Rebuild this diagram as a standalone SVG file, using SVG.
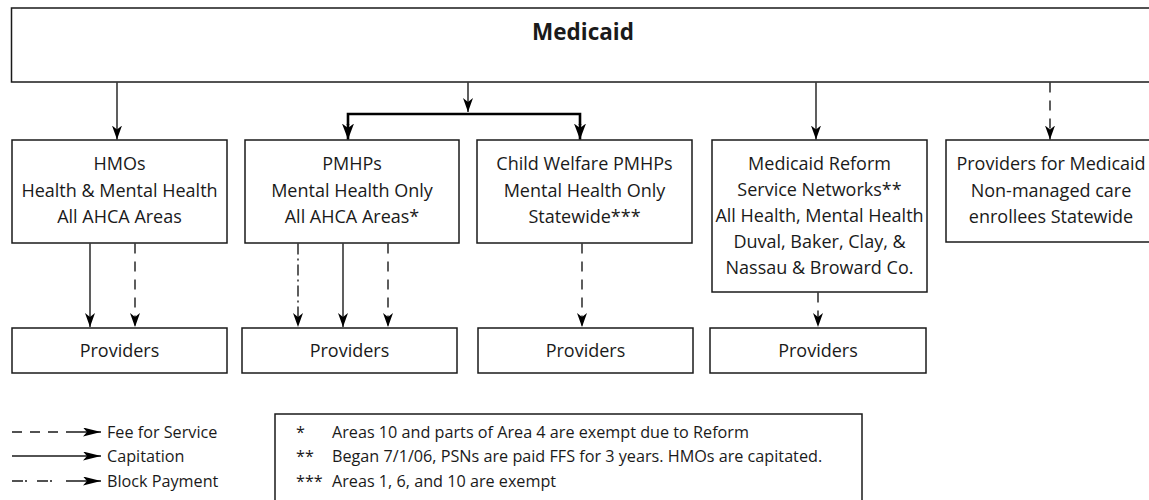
<svg xmlns="http://www.w3.org/2000/svg" width="1149" height="500" viewBox="0 0 1149 500">
<defs>
<style>
.box{fill:#fff;stroke:#1a1a1a;stroke-width:1.5}
.t{font-family:"Open Sans","Liberation Sans",sans-serif;font-size:18px;fill:#1a1a1a;text-anchor:middle}
.title{font-family:"Open Sans","Liberation Sans",sans-serif;font-size:22.5px;font-weight:bold;fill:#1a1a1a;text-anchor:middle}
.s{font-family:"Open Sans","Liberation Sans",sans-serif;font-size:16.2px;fill:#1a1a1a}
.c{fill:none;stroke:#1a1a1a;stroke-width:1.4;marker-end:url(#ah)}
.thick{fill:none;stroke:#000;stroke-width:2.6}
.dash{stroke-dasharray:10 8}
.dashdot{stroke-dasharray:11 4 2 4}
.lg{fill:none;stroke:#1a1a1a;stroke-width:1.4;marker-end:url(#lh)}
</style>
<marker id="ah" markerUnits="userSpaceOnUse" markerWidth="15" markerHeight="11" refX="14" refY="5" orient="auto">
<path d="M0,0 L14,5 L0,10 L4,5 z" fill="#000"/>
</marker>
<marker id="ahb" markerUnits="userSpaceOnUse" markerWidth="17" markerHeight="13" refX="16" refY="6" orient="auto">
<path d="M0,0 L16,6 L0,12 L4.5,6 z" fill="#000"/>
</marker>
<marker id="lh" markerUnits="userSpaceOnUse" markerWidth="19" markerHeight="10" refX="18" refY="4.5" orient="auto">
<path d="M0,0 L18,4.5 L0,9 L4,4.5 z" fill="#000"/>
</marker>
</defs>
<rect width="1149" height="500" fill="#fff"/>

<g id="medicaid">
<rect class="box" x="11.5" y="8" width="1150" height="74"/>
<text class="title" x="583" y="39.5">Medicaid</text>
</g>

<g id="hmos">
<rect class="box" x="12" y="140" width="215" height="103"/>
<text class="t" x="119.5" y="170">HMOs</text>
<text class="t" x="119.5" y="196.5">Health &amp; Mental Health</text>
<text class="t" x="119.5" y="223">All AHCA Areas</text>
</g>

<g id="pmhps">
<rect class="box" x="245" y="140" width="214" height="103"/>
<text class="t" x="352" y="170">PMHPs</text>
<text class="t" x="352" y="196.5">Mental Health Only</text>
<text class="t" x="352" y="223">All AHCA Areas*</text>
</g>

<g id="child-welfare">
<rect class="box" x="477" y="140" width="215" height="103"/>
<text class="t" x="584.5" y="170">Child Welfare PMHPs</text>
<text class="t" x="584.5" y="196.5">Mental Health Only</text>
<text class="t" x="584.5" y="223">Statewide***</text>
</g>

<g id="reform">
<rect class="box" x="712" y="140" width="215" height="152"/>
<text class="t" x="819.5" y="170">Medicaid Reform</text>
<text class="t" x="819.5" y="196">Service Networks**</text>
<text class="t" x="819.5" y="222">All Health, Mental Health</text>
<text class="t" x="819.5" y="248">Duval, Baker, Clay, &amp;</text>
<text class="t" x="819.5" y="274">Nassau &amp; Broward Co.</text>
</g>

<g id="non-managed">
<rect class="box" x="946" y="140" width="215" height="102"/>
<text class="t" x="1051" y="170">Providers for Medicaid</text>
<text class="t" x="1051" y="196.5">Non-managed care</text>
<text class="t" x="1051" y="223">enrollees Statewide</text>
</g>

<g id="providers-1">
<rect class="box" x="12" y="328" width="215" height="45"/>
<text class="t" x="119.5" y="357">Providers</text>
</g>
<g id="providers-2">
<rect class="box" x="242" y="328" width="215" height="45"/>
<text class="t" x="349.5" y="357">Providers</text>
</g>
<g id="providers-3">
<rect class="box" x="478" y="328" width="215" height="45"/>
<text class="t" x="585.5" y="357">Providers</text>
</g>
<g id="providers-4">
<rect class="box" x="710" y="328" width="216" height="45"/>
<text class="t" x="818" y="357">Providers</text>
</g>

<g id="connectors">
<line class="c" x1="117" y1="82.5" x2="117" y2="139.5"/>
<line class="c" x1="468" y1="82.5" x2="468" y2="112"/>
<path class="thick" d="M468,114 H348 V125" />
<path class="thick" d="M468,114 H580 V125" />
<line stroke="#000" stroke-width="2.6" x1="348" y1="124" x2="348" y2="139.5" marker-end="url(#ahb)"/>
<line stroke="#000" stroke-width="2.6" x1="580" y1="124" x2="580" y2="139.5" marker-end="url(#ahb)"/>
<line class="c" x1="816" y1="82.5" x2="816" y2="139.5"/>
<line class="c dash" x1="1050" y1="82.5" x2="1050" y2="139.5"/>

<line class="c" x1="90" y1="243.5" x2="90" y2="327"/>
<line class="c dash" x1="135" y1="243.5" x2="135" y2="327"/>
<line class="c dashdot" x1="298" y1="243.5" x2="298" y2="327"/>
<line class="c" x1="343" y1="243.5" x2="343" y2="327"/>
<line class="c dash" x1="388" y1="243.5" x2="388" y2="327"/>
<line class="c dash" x1="582" y1="243.5" x2="582" y2="327"/>
<line class="c dash" x1="818" y1="292.5" x2="818" y2="327"/>
</g>

<g id="legend">
<line class="lg" x1="12" y1="432" x2="101" y2="432" stroke-dasharray="10 8 10 8 10 8 100"/>
<text class="s" x="107" y="437.5">Fee for Service</text>
<line class="lg" x1="12" y1="456" x2="101" y2="456"/>
<text class="s" x="107" y="461.5">Capitation</text>
<line class="lg" x1="12" y1="481" x2="101" y2="481" stroke-dasharray="11 2 2 10 11 2 2 14 100"/>
<text class="s" x="107" y="486.5">Block Payment</text>
</g>

<g id="footnotes">
<rect class="box" x="275" y="414" width="587" height="100"/>
<text class="s" x="296" y="437.5">*</text>
<text class="s" x="332" y="437.5">Areas 10 and parts of Area 4 are exempt due to Reform</text>
<text class="s" x="296" y="461.5">**</text>
<text class="s" x="332" y="461.5">Began 7/1/06, PSNs are paid FFS for 3 years. HMOs are capitated.</text>
<text class="s" x="296" y="486.5">***</text>
<text class="s" x="332" y="486.5">Areas 1, 6, and 10 are exempt</text>
</g>
</svg>
